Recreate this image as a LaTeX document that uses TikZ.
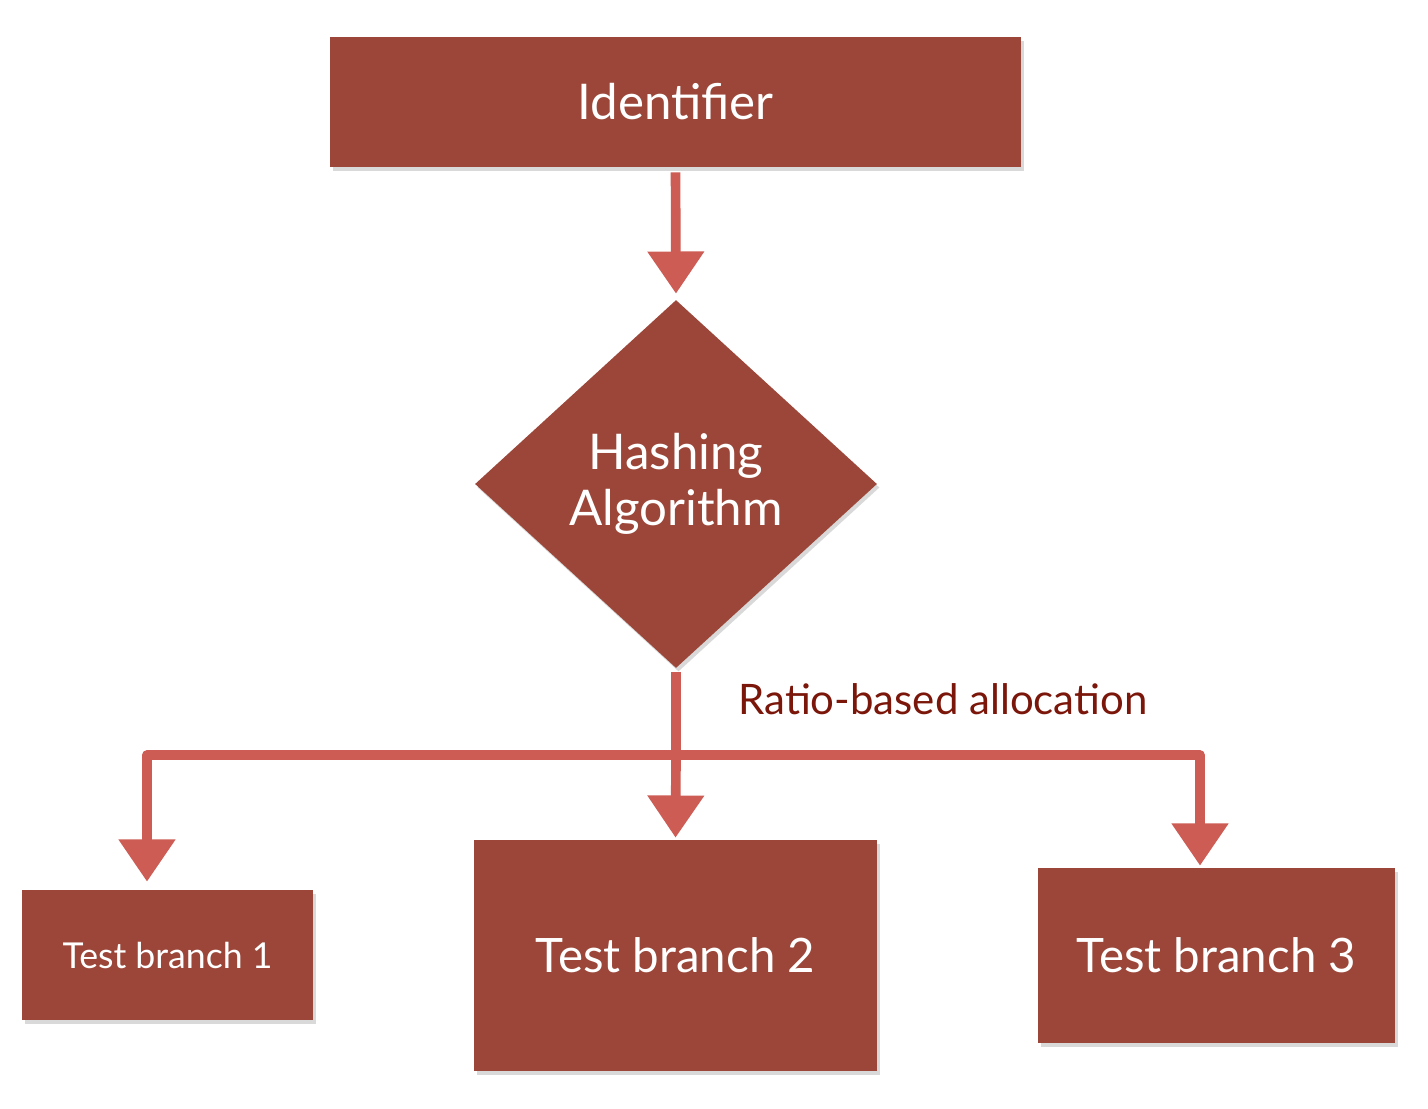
\documentclass[tikz,border=0pt]{standalone}
\usepackage{fontspec}
\setmainfont{Lato}
\usetikzlibrary{shapes.geometric,arrows.meta,shadows}
\begin{document}
\begin{tikzpicture}[
        box/.style={rectangle, fill=boxred, text=white, align=center, inner sep=0pt,
            drop shadow={shadow xshift=0.05cm, shadow yshift=-0.07cm, opacity=0.3}},
        flow/.style={draw=arrowred, line width=5.5pt, line join=round,
            -{Triangle[width=31pt, length=24pt]}},
        flowline/.style={draw=arrowred, line width=5.5pt, line join=round}
    ]
        \definecolor{boxred}{RGB}{155,70,57}
        \definecolor{arrowred}{RGB}{205,92,85}
        \definecolor{labelred}{RGB}{122,22,10}
        \useasboundingbox (0, 0) rectangle (28.56, -22.16);

        \node (ident) at (13.51, -2.04) [box, minimum width=13.82cm, minimum height=2.6cm, font=\fontsize{28}{34}\selectfont] {Identifier};
        \node (hash) at (13.52, -9.68) [box, diamond, minimum width=8.04cm, minimum height=7.36cm, font=\fontsize{28}{32}\selectfont] {Hashing\\Algorithm};

        \node (tb1) at (3.35, -19.1) [box, minimum width=5.82cm, minimum height=2.6cm, font=\fontsize{20.3}{24}\selectfont] {Test branch 1};
        \node (tb2) at (13.51, -19.11) [box, minimum width=8.06cm, minimum height=4.62cm, font=\fontsize{27}{32}\selectfont] {Test branch 2};
        \node (tb3) at (24.33, -19.11) [box, minimum width=7.14cm, minimum height=3.5cm, font=\fontsize{27}{32}\selectfont] {Test branch 3};

        \node (ratio) at (18.86, -13.98) [text=labelred, font=\fontsize{23.9}{28}\selectfont] {Ratio-based allocation};

        \coordinate (split) at (13.52, -15.1);
        \coordinate (left) at (2.94, -15.1);
        \coordinate (right) at (24.0, -15.1);

        \draw[flow, shorten <=0.1cm, shorten >=0.12cm] (ident.south) -- (hash.north);
        \draw[flowline, shorten <=0.08cm] (hash.south) -- (split);
        \draw[flow, shorten >=0.04cm] (split) -- (tb2.north);
        \draw[flow, shorten >=0.16cm] (split) -- (left) -- (left |- tb1.north);
        \draw[flow, shorten >=0.04cm] (split) -- (right) -- (right |- tb3.north);
    \end{tikzpicture}
\end{document}
